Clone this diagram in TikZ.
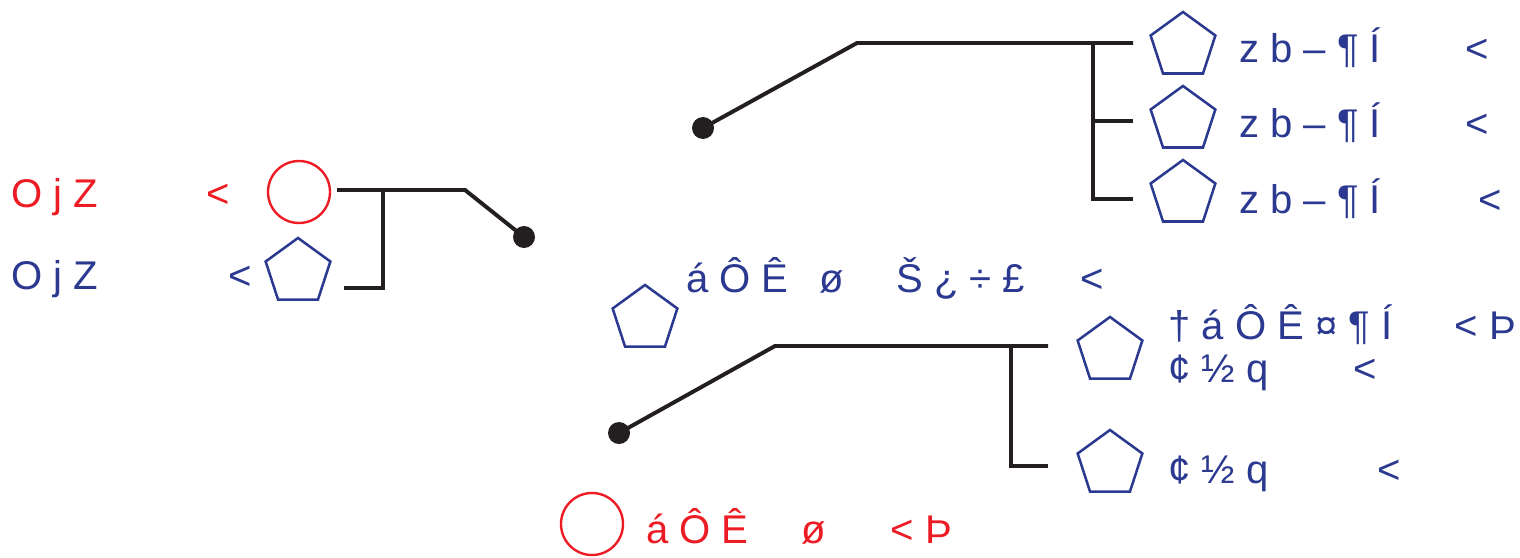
\documentclass[tikz,border=0pt]{standalone}
\usepackage{fontspec}
\setmainfont{Liberation Sans}
\usepackage{tikz}
\usetikzlibrary{shapes.geometric}

\definecolor{kred}{RGB}{237,28,36}
\definecolor{kblue}{RGB}{43,57,144}
\definecolor{kline}{RGB}{35,31,32}

\begin{document}
\begin{tikzpicture}[x=0.025cm, y=-0.025cm,
    pent/.style={draw=kblue, line width=1.8pt, regular polygon, regular polygon sides=5,
                 minimum size=1.7cm, inner sep=0pt},
    ring/.style={draw=kred, line width=1.7pt, circle, minimum size=1.55cm, inner sep=0pt},
    dot/.style={fill=kline, circle, minimum size=0.55cm, inner sep=0pt},
    wire/.style={draw=kline, line width=2.8pt},
    lbl/.style={anchor=base west, inner sep=0pt, font=\fontsize{28.5}{32}\selectfont}]
    \useasboundingbox (0,0) rectangle (1520,558);

    % left pair
    \node[ring] (rA) at (299,192) {};
    \node[pent] (pA) at (298,272) {};
    \node[dot] (dA) at (524,237) {};
    \coordinate (aS) at (337,190);
    \coordinate (aK) at (465,190);
    \coordinate (aJ) at (383,190);
    \coordinate (aB) at (344,288);

    \draw[wire] (aS) -- (aK) -- (dA.center);
    \draw[wire] (aJ) |- (aB);

    \node[lbl, kred] (tA) at (11,207) {O j Z};
    \node[lbl, kred] (ltA) at (206,207) {<};
    \node[lbl, kblue] (tB) at (11,289) {O j Z};
    \node[lbl, kblue] (ltB) at (228,289) {<};

    % upper tree
    \node[dot] (dB) at (703,128) {};
    \node[pent] (pB1) at (1183,46) {};
    \node[pent] (pB2) at (1183,120) {};
    \node[pent] (pB3) at (1183,194) {};
    \coordinate (bK) at (857,43);
    \coordinate (bE1) at (1133,43);
    \coordinate (bJ) at (1093,43);
    \coordinate (bE2) at (1133,121);
    \coordinate (bE3) at (1133,199);

    \draw[wire] (dB.center) -- (bK) -- (bE1);
    \draw[wire] (bJ) |- (bE3);
    \draw[wire] (bJ |- bE2) -- (bE2);

    \node[lbl, kblue] (tB1) at (1239,63) {z b – ¶ Í};
    \node[lbl, kblue] (tB2) at (1239,138) {z b – ¶ Í};
    \node[lbl, kblue] (tB3) at (1239,213) {z b – ¶ Í};
    \node[lbl, kblue] (ltB1) at (1465,63) {<};
    \node[lbl, kblue] (ltB2) at (1465,138) {<};
    \node[lbl, kblue] (ltB3) at (1478,213) {<};

    % middle
    \node[pent] (pC) at (645,319) {};
    \node[lbl, kblue] (tC1) at (686,292) {á Ô Ê};
    \node[lbl, kblue] (tC2) at (819,292) {ø};
    \node[lbl, kblue] (tC3) at (896,292) {Š ¿ ÷ £};
    \node[lbl, kblue] (ltC) at (1080,292) {<};

    % lower tree
    \node[dot] (dD) at (619,433) {};
    \node[pent] (pD1) at (1110,351) {};
    \node[pent] (pD2) at (1110,464) {};
    \coordinate (dK) at (775,346);
    \coordinate (dE1) at (1048,346);
    \coordinate (dJ) at (1011,346);
    \coordinate (dE2) at (1048,466);

    \draw[wire] (dD.center) -- (dK) -- (dE1);
    \draw[wire] (dJ) |- (dE2);

    \node[lbl, kblue] (tD1) at (1168,339) {† á Ô Ê ¤ ¶ Í};
    \node[lbl, kblue] (ltD1) at (1454,339) {<};
    \node[lbl, kblue] (thD1) at (1489,339) {Þ};
    \node[lbl, kblue] (tD2) at (1168,382) {¢ ½ q};
    \node[lbl, kblue] (ltD2) at (1353,382) {<};
    \node[lbl, kblue] (tD3) at (1168,483) {¢ ½ q};
    \node[lbl, kblue] (ltD3) at (1377,483) {<};

    % bottom
    \node[ring] (rE) at (592,524) {};
    \node[lbl, kred] (tE1) at (646,543) {á Ô Ê};
    \node[lbl, kred] (tE2) at (801,543) {ø};
    \node[lbl, kred] (ltE) at (890,543) {<};
    \node[lbl, kred] (thE) at (925,543) {Þ};
\end{tikzpicture}
\end{document}
